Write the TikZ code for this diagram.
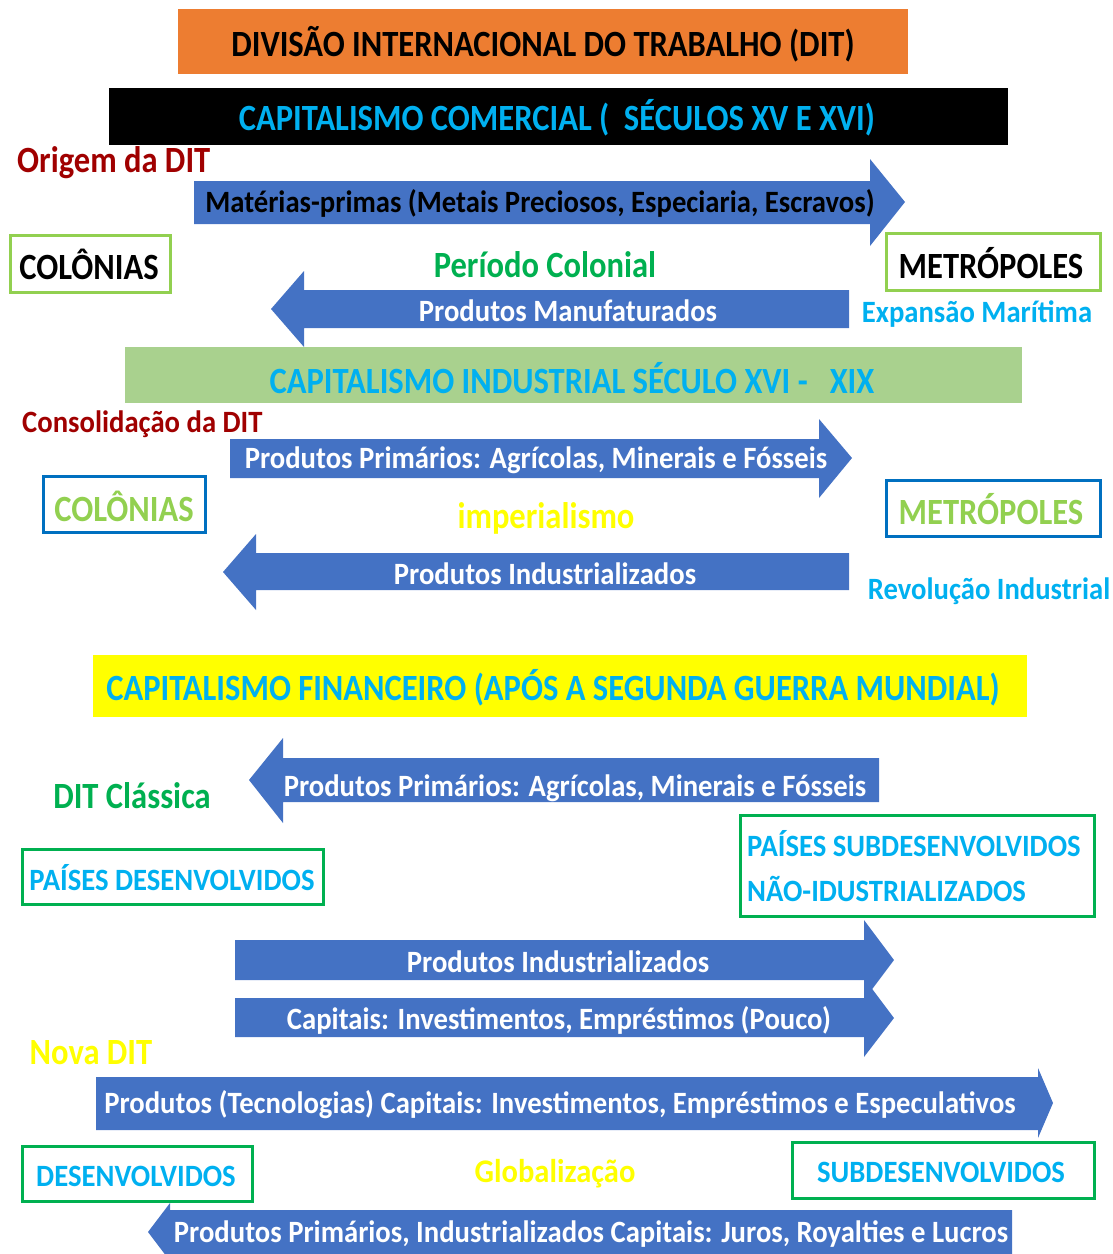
\documentclass[tikz,border=0pt]{standalone}
\usepackage{fontspec}
\newfontfamily\calibG{Carlito}[FakeStretch=0.88]
\newfontfamily\calibM{Carlito}[FakeStretch=0.925]
\definecolor{laranja}{HTML}{ED7D31}
\definecolor{ciano}{HTML}{00B0F0}
\definecolor{vinho}{HTML}{A00000}
\definecolor{azulseta}{HTML}{4472C4}
\definecolor{verdeclaro}{HTML}{92D050}
\definecolor{verde}{HTML}{00B050}
\definecolor{verdefaixa}{HTML}{A9D18E}
\definecolor{azulborda}{HTML}{0070C0}
\definecolor{amarelo}{HTML}{FFFF00}
\tikzset{
  grande/.style={font=\calibG\bfseries\fontsize{37}{40}\selectfont, inner sep=0pt},
  medio/.style={font=\calibM\bfseries\fontsize{31}{34}\selectfont, inner sep=0pt},
  seta/.style={fill=azulseta},
  caixa/.style={line width=3pt},
}
\begin{document}
\begin{tikzpicture}[x=1pt,y=-1pt]
\useasboundingbox (0,0) rectangle (1113,1254);
% faixas de titulo
\fill[laranja] (178,9) rectangle (908,74);
\node[grande] (titulo) at (543,44) {DIVISÃO INTERNACIONAL DO TRABALHO (DIT)};
\fill[black] (109,88) rectangle (1008,145);
\node[grande, ciano] (comercial) at (557,118) {CAPITALISMO COMERCIAL (\ \ SÉCULOS XV E XVI)};
% periodo colonial
\node[grande, vinho, anchor=west] (origem) at (17,163) {Origem da DIT};
\fill[seta] (194,181)--(870,181)--(870,159)--(905,202)--(870,246)--(870,224)--(194,224)--cycle;
\node[medio, black] (materias) at (540,203) {Matérias-primas (Metais Preciosos, Especiaria, Escravos)};
\draw[caixa, verdeclaro] (10,235) rectangle (170,292);
\node[grande, black] (colonias) at (89,264) {COLÔNIAS};
\draw[caixa, verdeclaro] (886,233) rectangle (1100,290);
\node[grande, black] (metropoles) at (991,263) {METRÓPOLES};
\node[grande, verde] (colonial) at (545,265) {Período Colonial};
\fill[seta] (849,290)--(304,290)--(304,271)--(271,309)--(304,347)--(304,328)--(849,328)--cycle;
\node[medio, white] (manufaturados) at (568,311) {Produtos Manufaturados};
\node[medio, ciano] (expansao) at (977,314) {Expansão Marítima};
% capitalismo industrial
\fill[verdefaixa] (125,347) rectangle (1022,403);
\node[grande, ciano] (industrial) at (572,378) {CAPITALISMO INDUSTRIAL SÉCULO XVI -\ \ \ XIX};
\node[medio, vinho, anchor=west] (consolidacao) at (22,424) {Consolidação da DIT};
\fill[seta] (230,439)--(819,439)--(819,419)--(852,458)--(819,498)--(819,478)--(230,478)--cycle;
\node[medio, white] (primarios) at (536,460) {Produtos Primários: Agrícolas, Minerais e Fósseis};
\draw[caixa, azulborda] (43,476) rectangle (205,532);
\node[grande, verdeclaro] (colonias2) at (124,506) {COLÔNIAS};
\draw[caixa, azulborda] (886,480) rectangle (1100,536);
\node[grande, verdeclaro] (metropoles2) at (991,509) {METRÓPOLES};
\node[grande, amarelo] (imperialismo) at (546,518) {imperialismo};
\fill[seta] (849,553)--(256,553)--(256,534)--(223,572)--(256,610)--(256,590)--(849,590)--cycle;
\node[medio, white] (industrializados) at (545,574) {Produtos Industrializados};
\node[medio, ciano] (revolucao) at (989,591) {Revolução Industrial};
% capitalismo financeiro
\fill[amarelo] (93,655) rectangle (1027,717);
\node[grande, ciano] (financeiro) at (553,688) {CAPITALISMO FINANCEIRO (APÓS A SEGUNDA GUERRA MUNDIAL)};
\fill[seta] (879,758)--(283,758)--(283,738)--(249,780)--(283,823)--(283,802)--(879,802)--cycle;
\node[medio, white] (primarios2) at (575,788) {Produtos Primários: Agrícolas, Minerais e Fósseis};
\node[grande, verde] (classica) at (132,796) {DIT Clássica};
\draw[caixa, verde] (22,849) rectangle (323,904);
\node[medio, ciano] (desenvolvidos) at (172,878) {PAÍSES DESENVOLVIDOS};
\draw[caixa, verde] (740,815) rectangle (1094,916);
\node[medio, ciano, anchor=west] (subdes) at (747,844) {PAÍSES SUBDESENVOLVIDOS};
\node[medio, ciano, anchor=west] (naoind) at (747,889) {NÃO-IDUSTRIALIZADOS};
\fill[seta] (235,940)--(864,940)--(864,920)--(894,960)--(864,1000)--(864,980)--(235,980)--cycle;
\node[medio, white] (industrializados2) at (558,962) {Produtos Industrializados};
\fill[seta] (235,998)--(864,998)--(864,978)--(894,1018)--(864,1057)--(864,1037)--(235,1037)--cycle;
\node[medio, white] (capitais) at (559,1020) {Capitais: Investimentos, Empréstimos (Pouco)};
\node[grande, amarelo] (novadit) at (91,1053) {Nova DIT};
\fill[seta] (96,1077)--(1038,1077)--(1038,1068)--(1053,1103)--(1038,1138)--(1038,1130)--(96,1130)--cycle;
\node[medio, white] (tecnologias) at (560,1105) {Produtos (Tecnologias) Capitais: Investimentos, Empréstimos e Especulativos};
\draw[caixa, verde] (22,1146) rectangle (252,1201);
\node[medio, ciano] (desenv) at (136,1176) {DESENVOLVIDOS};
\node[grande, amarelo, font=\calibM\bfseries\fontsize{33}{36}\selectfont] (globalizacao) at (555,1174) {Globalização};
\draw[caixa, verde] (792,1142) rectangle (1094,1198);
\node[medio, ciano] (subdesenv) at (941,1172) {SUBDESENVOLVIDOS};
\fill[seta] (1012,1210)--(170,1210)--(170,1203)--(148,1232)--(170,1261)--(170,1256)--(1012,1256)--cycle;
\node[medio, white] (juros) at (591,1234) {Produtos Primários, Industrializados Capitais: Juros, Royalties e Lucros};
\end{tikzpicture}
\end{document}
